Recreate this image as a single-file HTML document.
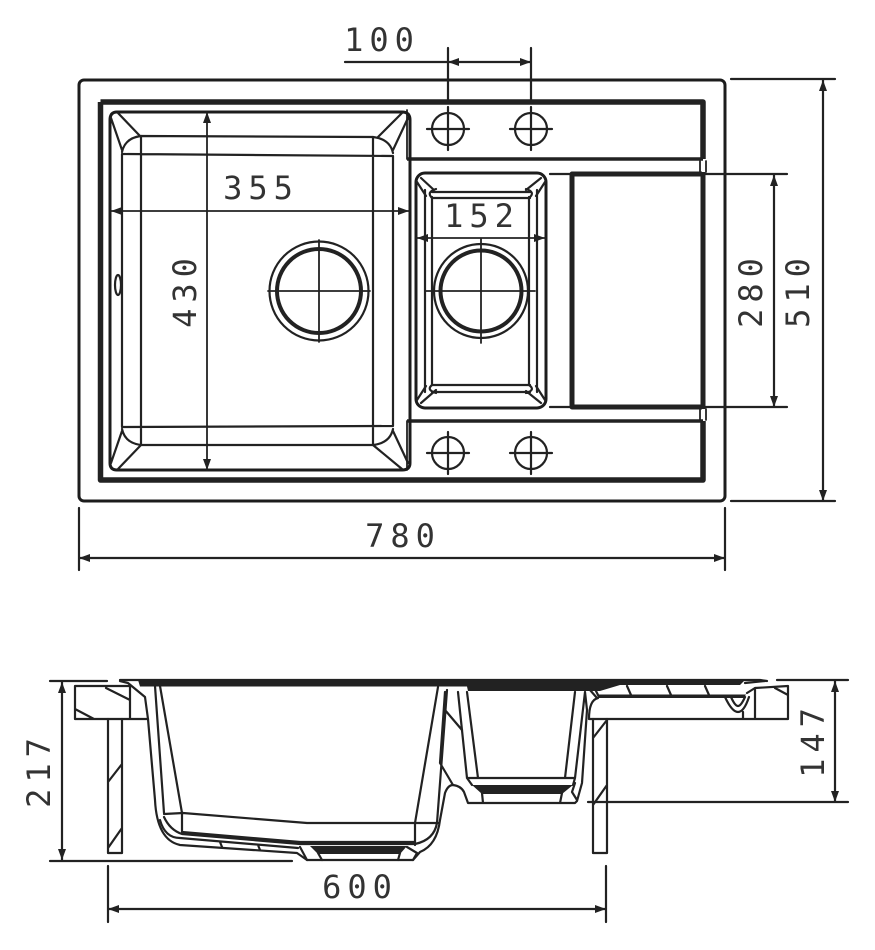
<!DOCTYPE html>
<html><head><meta charset="utf-8"><style>
html,body{margin:0;padding:0;background:#fff}
svg{display:block;filter:blur(.35px)}
text{font-family:"DejaVu Sans Mono","Liberation Mono",monospace;font-size:32px;letter-spacing:6px;fill:#333;text-anchor:middle}
.l{fill:none;stroke:#222;stroke-width:1.8;stroke-linejoin:round;stroke-linecap:round}
.m{fill:none;stroke:#222;stroke-width:2.2;stroke-linejoin:round;stroke-linecap:round}
.t{fill:none;stroke:#1c1c1c;stroke-width:3;stroke-linejoin:round;stroke-linecap:round}
.h{fill:none;stroke:#222;stroke-width:5.5;stroke-linejoin:round}
.a{fill:#222;stroke:none}
</style></head><body>
<svg width="875" height="950" viewBox="0 0 875 950" xmlns="http://www.w3.org/2000/svg">
<!-- plan -->
<rect class="t" x="79" y="80" width="646" height="421" rx="5"/>
<path class="h" d="M407 102H703V159M100.500 102V480H703V421M100.500 102H407"/>
<path class="h" style="stroke-width:3.500" d="M407 159H703M407 421H703"/>
<path class="l" d="M407 110V159M407 421V470M700 161V172M706 161V172M700 409V420M706 409V420"/>
<!-- big bowl -->
<path class="t" d="M117 112H402Q410 112 410 120V463Q410 470 402 470H117Q110 470 110 463V120Q110 112 117 112Z"/>
<path class="m" d="M141 136L373 137M122 154L393 156M122 427L393 426M141 445L373 445M122 154V427M141 136V445M373 137V445M393 156V426"/>
<path class="m" d="M118 113L140 136M111 118L122 150M141 136Q125 138 122 152M402 113L378 137M408 118L393 150M373 137Q390 139 393 153M118 469L141 445M111 463L122 431M141 445Q125 443 122 429M402 469L373 445M408 463L393 431M373 445Q390 443 393 429"/>
<ellipse class="m" cx="118" cy="285" rx="3" ry="10"/>
<circle class="m" cx="319" cy="291" r="49.500"/>
<circle cx="319" cy="291" r="42" fill="none" stroke="#222" stroke-width="4"/>
<path class="l" d="M319 240V342M268 291H370"/>
<!-- small bowl -->
<rect class="t" x="416" y="173" width="130" height="235" rx="9"/>
<path class="m" d="M425 190V392M432 197V385M529 197V385M537 190V392M432 192H530M432 198H530M432 385H530M432 392H530"/>
<path class="m" d="M421 178L434 190M426 196L417 182M432 198Q426 192 436 189M541 178L526 190M536 196L545 182M529 198Q536 192 526 189M421 403L436 390M426 386L417 400M432 385Q426 390 436 393M541 403L526 391M536 386L545 400M529 385Q536 390 526 393"/>
<circle class="m" cx="481" cy="291" r="47"/>
<circle cx="481" cy="291" r="40.500" fill="none" stroke="#222" stroke-width="4"/>
<path class="l" d="M481 239V343M426 291H535"/>
<!-- drainer -->
<path class="h" style="stroke-width:5" d="M702 174H572V407H702"/>
<path class="h" style="stroke-width:5" d="M703 172V409"/>
<!-- taps -->
<circle class="m" cx="448" cy="129" r="16"/><path class="m" d="M448 107V150M427 129H469"/>
<circle class="m" cx="531" cy="129" r="16"/><path class="m" d="M531 107V150M510 129H552"/>
<circle class="m" cx="448" cy="453" r="16"/><path class="m" d="M448 432V474M427 453H469"/>
<circle class="m" cx="531" cy="453" r="16"/><path class="m" d="M531 432V474M510 453H552"/>
<!-- plan dims -->
<path class="m" d="M345 62H531M448 48V102M531 48V102M731 79H835M731 501H835M823 80V501M550 174H787M550 407H787M774 175V407M79 508V570M725 508V570M79 558H725"/>
<path class="l" d="M111 211H410M416 238H546M207 112V470"/>
<path class="a" d="M448 62l11-4v8zM531 62l-11-4v8zM823 80l-4 11h8zM823 501l-4-11h8zM774 175l-4 11h8zM774 407l-4-11h8zM79 558l11-4v8zM725 558l-11-4v8zM207 112l-4 11h8zM207 470l-4-11h8zM111 211l11-4v8zM409 211l-11-4v8zM417 238l11-4v8zM545 238l-11-4v8z"/>
<text x="382" y="51">100</text>
<text x="261" y="199">355</text>
<text x="482" y="227">152</text>
<text x="403" y="547">780</text>
<text transform="translate(196,291) rotate(-90)" x="1" y="0">430</text>
<text transform="translate(762,291) rotate(-90)" x="1" y="0">280</text>
<text transform="translate(809,291) rotate(-90)" x="1" y="0">510</text>
<!-- section top band -->
<path d="M138 680H745L740 685H620L600 691H468L467 686.500H140Z" fill="#222"/>
<path class="m" d="M120 680H760L767 681"/>
<!-- left block and post -->
<path class="m" d="M75 686H130V719H75ZM106 688L130 700M75 709L94 719M130 686V719H147M120 681L128 683L145 697L148 719"/>
<path class="m" d="M108 719V853H122V719M108 782L122 764M108 848L122 828"/>
<!-- big bowl section -->
<path class="m" d="M148 719L155 800Q157 840 180 845L297 853L307 860H413L420 852Q437 845 440 820L445 793Q448 785 453 785"/>
<path class="m" d="M155 686L164 813M160 686L182 813V832M164 814L183 813L307 823H438M182 832L300 842H415M164 817Q170 830 182 834L300 844H415Q434 840 437 823M160 820Q165 838 180 838L298 848M220 842L222 847M258 845L260 850"/>
<path class="m" d="M438 687L415 823V845M447 690L437 823M445 692L440 763L453 785M445 710L462 730"/>
<path d="M310 846H407L400 854H318Z" fill="#222"/>
<path class="m" d="M300 847L307 860M318 853L322 860M400 853L398 860M407 847L417 853L413 860"/>
<!-- small bowl section -->
<path class="m" d="M458 692L467 778M467 692L478 778M575 692L565 778M585 692L575 778M467 778H575M453 785Q461 786 464 792L468 803H575L577 801L582 783L587 710L585 692M467 778L472 785M575 778L573 785M482 793L483 803M562 793L560 803M575 783L572 792L577 800"/>
<path d="M472 785H573L562 794H482Z" fill="#222"/>
<!-- drainer section -->
<path class="m" d="M590 690L597 698M593 685L598 695M627 686L631 695M667 686L671 695M705 686L709 695"/>
<path d="M597 694.500H746L744 698H598Z" fill="#222"/>
<path class="m" d="M598 698Q589 700 589 719H788M725 697Q732 712 738 712Q744 712 749 697M731 697Q735 706 738 706Q741 706 745 697M743 712V719M755 688V719M745 683L765 681M747 693L755 688L788 686V719M775 688L788 695"/>
<path class="m" d="M593 719V853H607V719M593 738L607 720M593 805L607 785"/>
<!-- section dims -->
<path class="m" d="M50 681H107M50 861H292M62 682V860M777 680H848M588 802H848M835 681V802M108 866V922M606 866V922M108 909H606"/>
<path class="a" d="M62 682l-4 11h8zM62 860l-4-11h8zM835 681l-4 11h8zM835 802l-4-11h8zM108 909l11-4v8zM606 909l-11-4v8z"/>
<text x="360" y="898">600</text>
<text transform="translate(50,771) rotate(-90)" x="1" y="0">217</text>
<text transform="translate(824,741) rotate(-90)" x="1" y="0">147</text>
</svg>
</body></html>
